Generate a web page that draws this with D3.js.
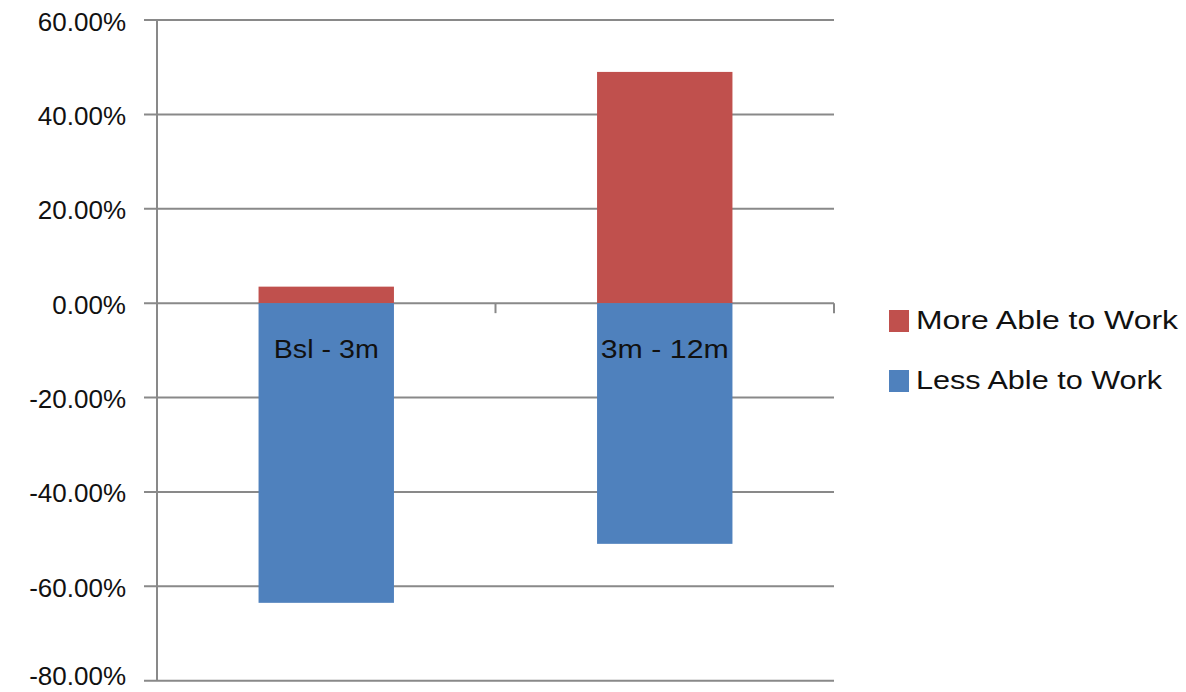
<!DOCTYPE html>
<html>
<head>
<meta charset="utf-8">
<script src="https://cdn.jsdelivr.net/npm/d3@7"></script>
<style>
  html, body { margin: 0; padding: 0; background: #fff; }
  svg { display: block; font-family: "Liberation Sans", Arial, sans-serif; }
</style>
</head>
<body>
<svg id="chart" width="1186" height="692"></svg>
<script>
// ---- data ----
const categories = ["Bsl - 3m", "3m - 12m"];
const seriesNames = ["More Able to Work", "Less Able to Work"];
const moreAble = [0.035, 0.49];
const lessAble = [-0.635, -0.51];
const yTickValues = [0.6, 0.4, 0.2, 0.0, -0.2, -0.4, -0.6, -0.8];
const seriesColors = ["#C0504D", "#4F81BD"];

(function () {
const svg = d3.select("#chart");
const plotL = 157, plotR = 834, plotT = 20, plotB = 680.7;

const y = d3.scaleLinear().domain([-0.8, 0.6]).range([plotB, plotT]);
const x = d3.scaleBand().domain(categories).range([plotL, plotR])
  .paddingInner(0.6).paddingOuter(0.3);
const xStep = d3.scaleBand().domain(categories).range([plotL, plotR]).padding(0);

const fmt = v => d3.format(".2%")(v).replace("\u2212", "-");
const gridColor = "#898989";

// gridlines + y ticks
svg.append("g").selectAll("line").data(yTickValues).join("line")
  .attr("x1", plotL - 13).attr("x2", plotR)
  .attr("y1", d => y(d)).attr("y2", d => y(d))
  .attr("stroke", gridColor).attr("stroke-width", 2);

// y tick labels
svg.append("g").selectAll("text").data(yTickValues).join("text")
  .attr("x", 126).attr("y", d => Math.min(y(d) + 10.5, 685))
  .attr("text-anchor", "end")
  .attr("font-size", 26).attr("fill", "#111")
  .text(d => fmt(d));

// y axis line
svg.append("line")
  .attr("x1", plotL).attr("x2", plotL).attr("y1", plotT).attr("y2", plotB)
  .attr("stroke", gridColor).attr("stroke-width", 2);

// x axis ticks at category boundaries
const boundaries = categories.map(c => xStep(c) + xStep.bandwidth());
svg.append("g").selectAll("line").data(boundaries).join("line")
  .attr("x1", d => d).attr("x2", d => d)
  .attr("y1", y(0)).attr("y2", y(0) + 10)
  .attr("stroke", gridColor).attr("stroke-width", 2);

// bars
const barsG = svg.append("g");
barsG.selectAll("rect.more").data(categories).join("rect")
  .attr("class", "more")
  .attr("x", d => x(d)).attr("width", x.bandwidth())
  .attr("y", (d, i) => y(moreAble[i]))
  .attr("height", (d, i) => y(0) - y(moreAble[i]))
  .attr("fill", seriesColors[0]);
barsG.selectAll("rect.less").data(categories).join("rect")
  .attr("class", "less")
  .attr("x", d => x(d)).attr("width", x.bandwidth())
  .attr("y", y(0))
  .attr("height", (d, i) => y(lessAble[i]) - y(0))
  .attr("fill", seriesColors[1]);

// category labels (drawn near zero line inside plot)
const catWidths = [105, 128];
svg.append("g").selectAll("text").data(categories).join("text")
  .attr("x", (d, i) => x(d) + x.bandwidth() / 2 - catWidths[i] / 2)
  .attr("y", y(0) + 55)
  .attr("font-size", 26).attr("fill", "#111")
  .attr("textLength", (d, i) => catWidths[i])
  .attr("lengthAdjust", "spacingAndGlyphs")
  .text(d => d);

// legend
const legendRows = [{ name: seriesNames[0], color: seriesColors[0], w: 262 },
                    { name: seriesNames[1], color: seriesColors[1], w: 246 }];
const lg = svg.append("g").attr("transform", "translate(889,310)");
const rows = lg.selectAll("g").data(legendRows).join("g")
  .attr("transform", (d, i) => `translate(0,${i * 60})`);
rows.append("rect").attr("width", 20).attr("height", 22).attr("fill", d => d.color);
rows.append("text").attr("x", 27).attr("y", 19)
  .attr("font-size", 26).attr("fill", "#111")
  .attr("textLength", d => d.w).attr("lengthAdjust", "spacingAndGlyphs")
  .text(d => d.name);
})();
</script>
</body>
</html>
